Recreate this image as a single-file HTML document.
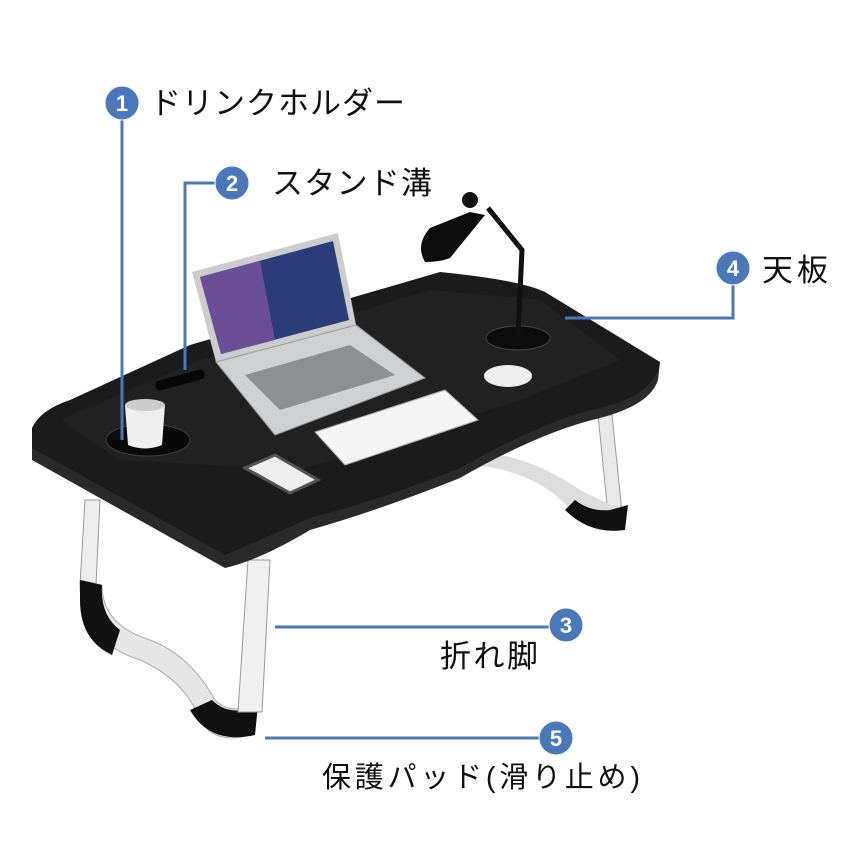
<!DOCTYPE html>
<html><head><meta charset="utf-8"><style>
html,body{margin:0;padding:0;background:#fff;width:850px;height:850px;overflow:hidden}
text{font-family:"Liberation Sans","Noto Sans CJK JP",sans-serif;fill:#111}
.n{fill:#fff;font-size:22px;font-weight:bold;text-anchor:middle}
</style></head><body>
<svg width="850" height="850" viewBox="0 0 850 850" xmlns="http://www.w3.org/2000/svg">
<rect width="850" height="850" fill="#fff"/>
<!-- back right leg -->
<path d="M598,415 L612,415 L622,512 L608,514 Z" fill="#e8e8e8" stroke="#999"/>
<path d="M470,465 Q540,470 575,515 L615,525 L622,510 Q600,500 580,490 Q530,455 470,450 Z" fill="#ddd"/>
<path d="M565,510 Q590,535 625,530 L628,505 L610,510 Q590,512 575,500 Z" fill="#111"/>
<!-- left front leg -->
<path d="M85,500 L100,500 L96,585 L80,585 Z" fill="#eee" stroke="#999"/>
<path d="M80,580 Q78,640 140,660 Q185,680 200,720 Q215,745 250,735 L255,705 Q230,715 215,700 Q190,655 150,640 Q102,625 102,585 Z" fill="#e6e6e6" stroke="#aaa"/>
<path d="M80,580 L102,585 Q100,615 120,630 L112,655 Q80,640 80,600 Z" fill="#111"/>
<path d="M190,710 Q210,745 255,735 L258,705 Q230,718 212,700 Z" fill="#111"/>
<!-- right front leg -->
<path d="M248,560 L270,560 L262,712 L238,712 Z" fill="#f0f0f0" stroke="#999"/>
<!-- table top edge -->
<path d="M32,430 L32,460 L225,568 Q260,560 310,530 Q380,510 460,478 Q540,432 600,418 Q650,405 658,380 L660,362 Z" fill="#2a2a2a"/>
<!-- table top -->
<path d="M32,428 Q40,410 70,400 L190,345 L440,272 Q520,280 545,292 L660,362 Q655,395 600,408 Q545,420 460,468 Q380,500 310,518 Q260,540 225,555 L32,448 Z" fill="#1b1b1b"/>
<path d="M60,420 L200,360 L430,290 L540,300 L620,360 L520,400 L300,470 L120,460 Z" fill="#262626" opacity="0.6"/>
<!-- slot -->
<rect x="155" y="375" width="50" height="10" rx="4" fill="#080808" transform="rotate(-15 180 380)"/>
<!-- cup holder & cup -->
<ellipse cx="148" cy="440" rx="42" ry="16" fill="#0a0a0a" stroke="#444"/>
<path d="M125,405 L165,405 L162,445 Q145,452 128,445 Z" fill="#eee"/>
<ellipse cx="145" cy="405" rx="20" ry="6" fill="#ccc"/>
<!-- laptop -->
<path d="M192,272 L338,233 L356,325 L216,362 Z" fill="#ccc"/>
<path d="M200,277 L333,241 L349,320 L221,354 Z" fill="#2b3d78"/>
<path d="M200,277 L260,261 L275,340 L221,354 Z" fill="#6a4f96"/>
<path d="M216,362 L356,325 L425,378 L275,435 Z" fill="#cfd0d2" stroke="#999"/>
<path d="M245,375 L350,345 L395,375 L280,410 Z" fill="#8d8f92"/>
<!-- keyboard -->
<path d="M315,432 L445,390 L478,420 L345,465 Z" fill="#f4f4f4" stroke="#aaa"/>
<!-- phone -->
<path d="M245,468 L275,455 L318,480 L290,493 Z" fill="#eee" stroke="#555" stroke-width="3"/>
<!-- mouse -->
<ellipse cx="508" cy="376" rx="24" ry="11" fill="#eee"/>
<!-- lamp -->
<ellipse cx="518" cy="338" rx="32" ry="12" fill="#0c0c0c" stroke="#444"/>
<path d="M518,335 L522,250 L488,208" stroke="#111" stroke-width="5" fill="none"/>
<path d="M470,212 L430,228 Q415,245 425,262 Q440,262 450,258 L485,215 Z" fill="#0c0c0c"/>
<circle cx="470" cy="200" r="8" fill="#111"/>
<!-- callouts -->
<g stroke="#4a78b8" stroke-width="3" fill="none">
<line x1="122" y1="115" x2="122" y2="440"/>
<polyline points="215,183 185,183 185,370"/>
<polyline points="733,280 733,318 565,318"/>
<line x1="275" y1="627" x2="550" y2="627"/>
<line x1="265" y1="738" x2="540" y2="738"/>
</g>
<g fill="#4a78b8" stroke="#fff" stroke-width="1">
<circle cx="122" cy="103" r="17"/><circle cx="232" cy="183" r="17"/><circle cx="733" cy="268" r="17"/>
<circle cx="566" cy="625" r="17"/><circle cx="556" cy="738" r="17"/>
</g>
<text class="n" x="122" y="111">1</text><text class="n" x="232" y="191">2</text><text class="n" x="733" y="276">4</text>
<text class="n" x="566" y="633">3</text><text class="n" x="556" y="746">5</text>
<text x="150" y="114" font-size="31" textLength="255">ドリンクホルダー</text>
<text x="272" y="194" font-size="31" textLength="160">スタンド溝</text>
<text x="762" y="281" font-size="31" textLength="66">天板</text>
<text x="440" y="667" font-size="31" textLength="98">折れ脚</text>
<text x="322" y="787" font-size="29" textLength="318">保護パッド(滑り止め)</text>
</svg>
</body></html>
